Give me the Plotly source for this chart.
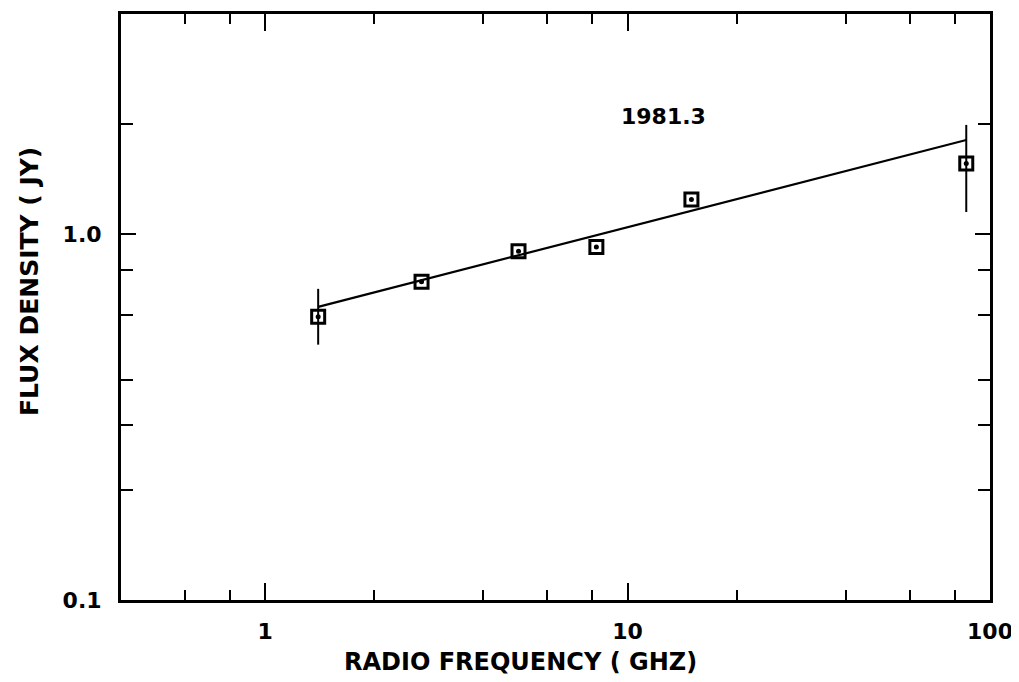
import math
import plotly.graph_objects as go

# Data
freq_ghz = [1.4, 2.7, 5.0, 8.2, 15.0, 86.0]
flux_jy = [0.595, 0.741, 0.899, 0.922, 1.245, 1.56]
err_plus = [0.114, 0, 0, 0, 0, 0.43]
err_minus = [0.096, 0, 0, 0, 0, 0.41]

fit_freq = [1.4, 86.0]
fit_flux = [0.633, 1.81]

x_major = [1, 10, 100]
x_major_text = ["1", "10", "100"]
x_minor = [0.6, 0.8, 2, 4, 6, 8, 20, 40, 60, 80]
y_major = [0.1, 1.0]
y_major_text = ["0.1", "1.0"]
y_minor = [0.2, 0.3, 0.4, 0.6, 0.8, 2]

epoch_label = "1981.3"
x_title = "RADIO FREQUENCY ( GHZ)"
y_title = "FLUX DENSITY ( JY)"

FONT = "DejaVu Sans"

# page body has an 8px margin; place the figure so the frame lands where the reference has it
OFF = 8
W, H = 1010, 672
L, R, T, B = 121 - OFF, W + OFF - 990, 14 - OFF, H + OFF - 600


def px_to_paper(sx, sy):
    return ((sx - OFF - L) / (W - L - R), 1 - (sy - OFF - T) / (H - T - B))


fig = go.Figure()
fig.add_trace(go.Scatter(
    x=fit_freq, y=fit_flux, mode="lines",
    line=dict(color="black", width=2.2), showlegend=False, hoverinfo="skip"))
fig.add_trace(go.Scatter(
    x=freq_ghz, y=flux_jy, mode="markers",
    marker=dict(symbol="square-open", size=13, color="black",
                line=dict(color="black", width=3)),
    error_y=dict(type="data", array=err_plus, arrayminus=err_minus,
                 symmetric=False, color="black", thickness=2, width=0),
    showlegend=False))
fig.add_trace(go.Scatter(
    x=freq_ghz, y=flux_jy, mode="markers",
    marker=dict(symbol="circle", size=5, color="black"),
    showlegend=False, hoverinfo="skip"))

axis_common = dict(
    type="log", showline=True, linecolor="black", linewidth=3, mirror="ticks",
    ticks="inside", tickcolor="black", tickwidth=2, showgrid=False, zeroline=False,
    tickfont=dict(family=FONT, size=22, color="black", weight="bold"),
    ticklabeloverflow="allow",
)

fig.update_xaxes(
    **axis_common,
    range=[math.log10(0.4), 2], tickmode="array", tickvals=x_major,
    ticktext=x_major_text, ticklen=17, ticklabelstandoff=10,
    minor=dict(tickmode="array", tickvals=x_minor, ticks="inside",
               ticklen=10, tickwidth=2, tickcolor="black", showgrid=False),
)
fig.update_yaxes(
    **axis_common,
    range=[-1, math.log10(4.0)], tickmode="array", tickvals=y_major,
    ticktext=y_major_text, ticklen=15, ticklabelstandoff=12,
    minor=dict(tickmode="array", tickvals=y_minor, ticks="inside",
               ticklen=12, tickwidth=2, tickcolor="black", showgrid=False),
)

fig.add_annotation(x=math.log10(12.6), y=math.log10(2.1), xref="x", yref="y",
                   text=epoch_label, showarrow=False,
                   xanchor="center", yanchor="middle",
                   font=dict(family=FONT, size=22, color="black", weight="bold"))
ax_, ay_ = px_to_paper(520, 662)
fig.add_annotation(x=ax_, y=ay_, xref="paper", yref="paper", text=x_title,
                   showarrow=False, xanchor="center", yanchor="middle",
                   font=dict(family=FONT, size=24, color="black", weight="bold"))
bx_, by_ = px_to_paper(30, 282)
fig.add_annotation(x=bx_, y=by_, xref="paper", yref="paper", text=y_title,
                   showarrow=False, textangle=-90, xanchor="center", yanchor="middle",
                   font=dict(family=FONT, size=25, color="black", weight="bold"))

fig.update_layout(
    width=W, height=H, margin=dict(l=L, r=R, t=T, b=B, autoexpand=False),
    paper_bgcolor="white", plot_bgcolor="white",
    font=dict(family=FONT, color="black"),
)

fig.write_html("out.html")
